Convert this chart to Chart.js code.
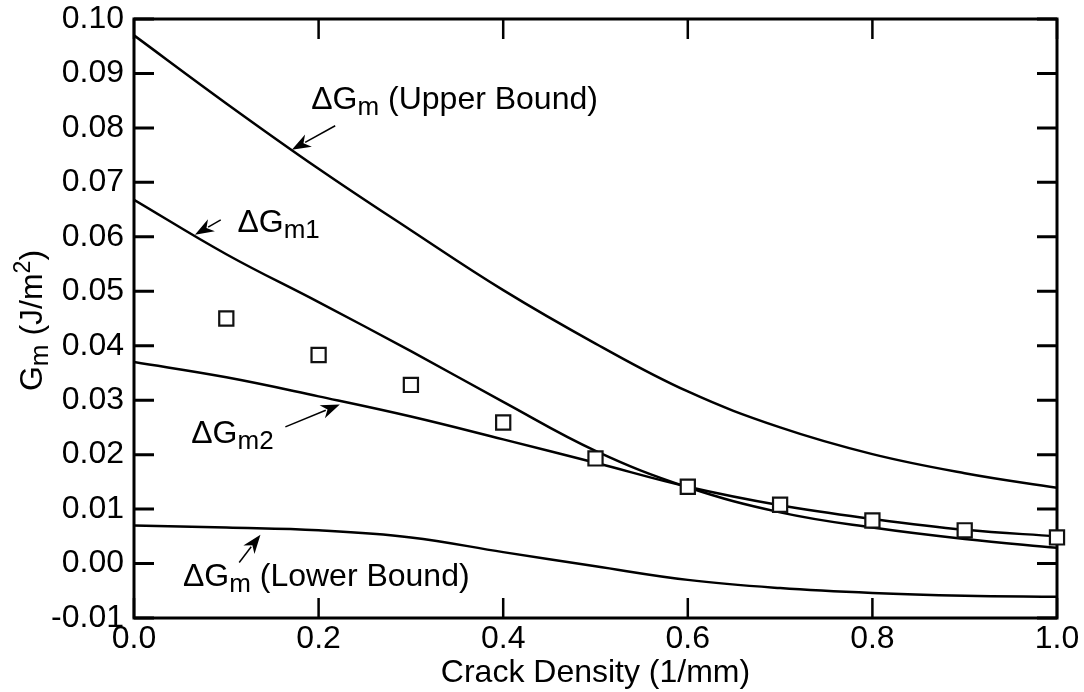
<!DOCTYPE html>
<html>
<head>
<meta charset="utf-8">
<script src="https://cdn.jsdelivr.net/npm/chart.js@4/dist/chart.umd.min.js"></script>
<style>
  html, body { margin: 0; padding: 0; background: #fff; }
  #wrap { width: 1084px; height: 692px; position: relative; }
</style>
</head>
<body>
<div id="wrap"><canvas id="grafico"></canvas></div>
<script>
// Dados
const crackDensity = [0.0, 0.1, 0.2, 0.3, 0.4, 0.5, 0.6, 0.7, 0.8, 0.9, 1.0];
const upperBound = [0.0970, 0.0845, 0.0725, 0.0612, 0.0502, 0.0404, 0.0316, 0.0250, 0.0201, 0.0166, 0.0139];
const deltaGm1 = [0.0668, 0.0568, 0.0480, 0.0390, 0.0297, 0.0207, 0.0140, 0.0094, 0.0066, 0.0045, 0.0029];
const deltaGm2 = [0.0370, 0.0342, 0.0307, 0.0270, 0.0228, 0.0185, 0.0141, 0.0107, 0.0082, 0.0062, 0.0050];
const lowerBound = [0.0070, 0.0066, 0.0061, 0.0048, 0.0021, -0.0005, -0.0030, -0.0045, -0.0054, -0.0059, -0.0061];

const expDensity = [0.1, 0.2, 0.3, 0.4, 0.5, 0.6, 0.7, 0.8, 0.9, 1.0];
const expGm = [0.0450, 0.0383, 0.0328, 0.0259, 0.0193, 0.0141, 0.0108, 0.0079, 0.0061, 0.0048];

const xTicks = [0.0, 0.2, 0.4, 0.6, 0.8, 1.0];
const yTicks = [-0.01, 0.00, 0.01, 0.02, 0.03, 0.04, 0.05, 0.06, 0.07, 0.08, 0.09, 0.10];

// rótulos das curvas: texto com subscrito, posição do texto e da seta (em unidades dos dados)
const rotulos = [
    { partes: [['ΔG', 0], ['m', 1], [' (Upper Bound)', 0]], x: 0.192, y: 0.0835, seta: [0.218, 0.0804, 0.171, 0.0760] },
    { partes: [['ΔG', 0], ['m1', 1]], x: 0.112, y: 0.0609, seta: [0.094, 0.0631, 0.066, 0.0604] },
    { partes: [['ΔG', 0], ['m2', 1]], x: 0.062, y: 0.0222, seta: [0.164, 0.0251, 0.223, 0.0292] },
    { partes: [['ΔG', 0], ['m', 1], [' (Lower Bound)', 0]], x: 0.053, y: -0.0042, seta: [0.114, 0.0002, 0.137, 0.0053] }
];

const FONTE = '"Liberation Sans", Arial, Helvetica, sans-serif';
const TAM = 32;

function serie(ys) {
    return crackDensity.map((x, i) => ({ x, y: ys[i] }));
}

function linha(ys) {
    return {
        type: 'line',
        data: serie(ys),
        borderColor: '#000',
        borderWidth: 2.5,
        pointRadius: 0,
        fill: false,
        tension: 0.4
    };
}

function textoRico(ctx, x, y, partes, tam) {
    let cx = x;
    partes.forEach(([t, tipo]) => {
        if (tipo === 1) {
            ctx.font = `${Math.round(tam * 0.8)}px ${FONTE}`;
            ctx.fillText(t, cx, y + 6);
        } else if (tipo === 2) {
            ctx.font = `${Math.round(tam * 0.72)}px ${FONTE}`;
            ctx.fillText(t, cx, y - 12);
        } else {
            ctx.font = `${tam}px ${FONTE}`;
            ctx.fillText(t, cx, y);
        }
        cx += ctx.measureText(t).width;
    });
    return cx - x;
}

function larguraRica(ctx, partes, tam) {
    let w = 0;
    partes.forEach(([t, tipo]) => {
        const s = tipo === 1 ? Math.round(tam * 0.8) : tipo === 2 ? Math.round(tam * 0.72) : tam;
        ctx.font = `${s}px ${FONTE}`;
        w += ctx.measureText(t).width;
    });
    return w;
}

function seta(ctx, x1, y1, x2, y2) {
    const ang = Math.atan2(y2 - y1, x2 - x1);
    const comp = 19, meia = 7;
    const c = Math.cos(ang), s = Math.sin(ang);
    ctx.beginPath();
    ctx.moveTo(x1, y1);
    ctx.lineTo(x2 - c * comp * 0.8, y2 - s * comp * 0.8);
    ctx.lineWidth = 1.5;
    ctx.stroke();
    ctx.beginPath();
    ctx.moveTo(x2, y2);
    ctx.lineTo(x2 - c * comp + s * meia, y2 - s * comp - c * meia);
    ctx.lineTo(x2 - c * comp * 0.7, y2 - s * comp * 0.7);
    ctx.lineTo(x2 - c * comp - s * meia, y2 - s * comp + c * meia);
    ctx.closePath();
    ctx.fill();
}

// moldura com marcas para dentro nos quatro lados
const molduraPlugin = {
    id: 'moldura',
    beforeDatasetsDraw(chart) {
        const { ctx, chartArea: a, scales } = chart;
        ctx.save();
        ctx.strokeStyle = '#000';
        ctx.lineCap = 'butt';
        ctx.lineWidth = 2.5;
        xTicks.forEach(v => {
            const px = scales.x.getPixelForValue(v);
            ctx.beginPath();
            ctx.moveTo(px, a.bottom); ctx.lineTo(px, a.bottom - 20);
            ctx.moveTo(px, a.top); ctx.lineTo(px, a.top + 20);
            ctx.stroke();
        });
        ctx.lineWidth = 3;
        yTicks.forEach(v => {
            const py = scales.y.getPixelForValue(v);
            ctx.beginPath();
            ctx.moveTo(a.left, py); ctx.lineTo(a.left + 20, py);
            ctx.moveTo(a.right, py); ctx.lineTo(a.right - 20, py);
            ctx.stroke();
        });
        ctx.lineWidth = 3;
        ctx.strokeRect(a.left, a.top, a.right - a.left, a.bottom - a.top);
        ctx.restore();
    },
    afterDatasetsDraw(chart) {
        const { ctx, chartArea: a, scales } = chart;
        ctx.save();
        ctx.fillStyle = '#000';
        ctx.strokeStyle = '#000';
        ctx.textBaseline = 'alphabetic';
        ctx.textAlign = 'left';
        rotulos.forEach(r => {
            textoRico(ctx, scales.x.getPixelForValue(r.x), scales.y.getPixelForValue(r.y), r.partes, TAM);
            const s = r.seta;
            seta(ctx, scales.x.getPixelForValue(s[0]), scales.y.getPixelForValue(s[1]),
                 scales.x.getPixelForValue(s[2]), scales.y.getPixelForValue(s[3]));
        });
        // título do eixo y
        const tituloY = [['G', 0], ['m', 1], [' (J/m', 0], ['2', 2], [')', 0]];
        const w = larguraRica(ctx, tituloY, TAM);
        ctx.translate(42, (a.top + a.bottom) / 2 + 2);
        ctx.rotate(-Math.PI / 2);
        textoRico(ctx, -w / 2, 0, tituloY, TAM);
        ctx.restore();
    }
};

Chart.defaults.color = '#000';
Chart.defaults.font.family = FONTE;

new Chart(document.getElementById('grafico'), {
    data: {
        datasets: [
            {
                type: 'scatter',
                data: expDensity.map((x, i) => ({ x, y: expGm[i] })),
                pointStyle: 'rect',
                pointRadius: 10,
                pointBorderWidth: 2.2,
                pointBackgroundColor: '#fff',
                pointBorderColor: '#111',
                clip: false
            },
            linha(upperBound),
            linha(deltaGm1),
            linha(deltaGm2),
            linha(lowerBound)
        ]
    },
    options: {
        responsive: true,
        maintainAspectRatio: false,
        animation: false,
        layout: { padding: { left: 0, top: 19, right: 27, bottom: 0 } },
        plugins: { legend: { display: false }, tooltip: { enabled: false } },
        scales: {
            x: {
                type: 'linear',
                min: 0, max: 1,
                grid: { display: false },
                border: { display: false },
                ticks: { stepSize: 0.2, padding: -6, font: { size: TAM }, callback: v => v.toFixed(1), maxRotation: 0 },
                title: { display: true, text: 'Crack Density (1/mm)', font: { size: TAM }, padding: 0 },
                afterFit: s => { s.height = 74; s.paddingLeft = 0; s.paddingRight = 0; }
            },
            y: {
                type: 'linear',
                min: -0.01, max: 0.10,
                grid: { display: false },
                border: { display: false },
                ticks: { stepSize: 0.01, padding: 2, font: { size: TAM }, maxTicksLimit: 20, autoSkip: false, callback: v => v.toFixed(2) },
                afterFit: s => { s.width = 134; s.paddingTop = 0; s.paddingBottom = 0; }
            }
        }
    },
    plugins: [molduraPlugin]
});
</script>
</body>
</html>
